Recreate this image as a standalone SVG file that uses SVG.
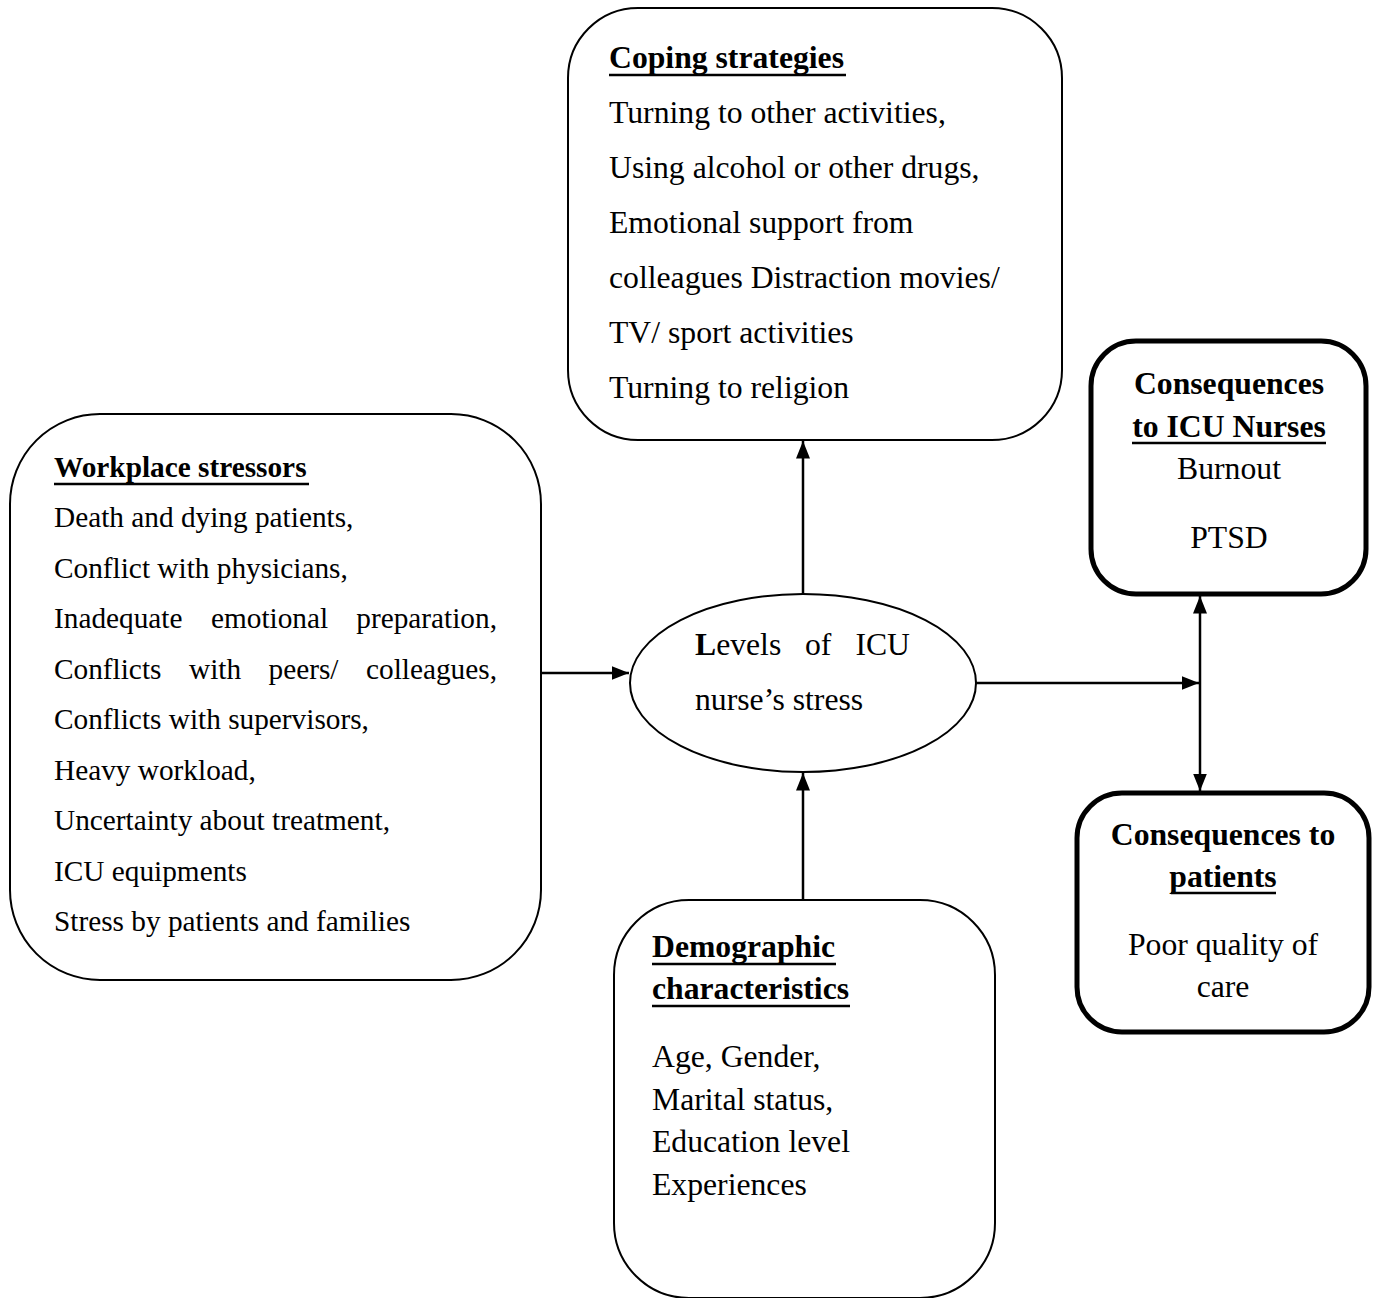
<svg xmlns="http://www.w3.org/2000/svg" width="1376" height="1298" viewBox="0 0 1376 1298">
<defs>
<marker id="arr" viewBox="0 0 10 8" refX="10" refY="4" markerWidth="7" markerHeight="5.6" markerUnits="strokeWidth" orient="auto-start-reverse">
<path d="M0,0 L10,4 L0,8 Z" fill="#000"/>
</marker>
<style>
.box{fill:#fff;stroke:#000;stroke-width:2}
.thick{fill:#fff;stroke:#000;stroke-width:5}
.t{font-family:"Liberation Serif","Times New Roman",serif;font-size:31.7px;fill:#000}
.w{font-family:"Liberation Serif","Times New Roman",serif;font-size:29.3px;fill:#000}
.b{font-weight:bold}
.ul{stroke:#000;stroke-width:2.5}
.con{stroke:#000;stroke-width:2.5;fill:none}
</style>
</defs>
<rect width="1376" height="1298" fill="#fff"/>

<g id="connectors">
<line class="con" x1="541" y1="673" x2="629" y2="673" marker-end="url(#arr)"/>
<line class="con" x1="803" y1="594" x2="803" y2="441" marker-end="url(#arr)"/>
<line class="con" x1="803" y1="900" x2="803" y2="773" marker-end="url(#arr)"/>
<line class="con" x1="976" y1="683" x2="1199" y2="683" marker-end="url(#arr)"/>
<line class="con" x1="1200" y1="596" x2="1200" y2="791" marker-start="url(#arr)" marker-end="url(#arr)"/>
</g>

<g id="coping">
<rect class="box" x="568" y="8" width="494" height="432" rx="70" ry="70"/>
<text class="t b" x="609" y="68">Coping strategies</text>
<line class="ul" x1="609" y1="75" x2="846" y2="75"/>
<text class="t" x="609" y="123">Turning to other activities,</text>
<text class="t" x="609" y="178">Using alcohol or other drugs,</text>
<text class="t" x="609" y="233">Emotional support from</text>
<text class="t" x="609" y="288">colleagues Distraction movies/</text>
<text class="t" x="609" y="343">TV/ sport activities</text>
<text class="t" x="609" y="398">Turning to religion</text>
</g>

<g id="workplace">
<rect class="box" x="10" y="414" width="531" height="566" rx="90" ry="90"/>
<text class="w b" x="54" y="477">Workplace stressors</text>
<line class="ul" x1="54" y1="484" x2="309" y2="484"/>
<text class="w" x="54" y="527">Death and dying patients,</text>
<text class="w" x="54" y="578">Conflict with physicians,</text>
<text class="w" y="628"><tspan x="54">Inadequate</tspan><tspan x="211">emotional</tspan><tspan x="497" text-anchor="end">preparation,</tspan></text>
<text class="w" y="679"><tspan x="54">Conflicts</tspan><tspan x="189">with</tspan><tspan x="268.5">peers/</tspan><tspan x="497" text-anchor="end">colleagues,</tspan></text>
<text class="w" x="54" y="729">Conflicts with supervisors,</text>
<text class="w" x="54" y="780">Heavy workload,</text>
<text class="w" x="54" y="830">Uncertainty about treatment,</text>
<text class="w" x="54" y="881">ICU equipments</text>
<text class="w" x="54" y="931">Stress by patients and families</text>
</g>

<g id="stress">
<ellipse class="box" cx="803" cy="683" rx="173" ry="89"/>
<text class="t" y="655"><tspan x="695"><tspan class="b">L</tspan>evels</tspan><tspan x="805">of</tspan><tspan x="910" text-anchor="end">ICU</tspan></text>
<text class="t" x="695" y="710">nurse’s stress</text>
</g>

<g id="nurses">
<rect class="thick" x="1091" y="341" width="275" height="253" rx="45" ry="45"/>
<text class="t b" x="1229" y="394" text-anchor="middle">Consequences</text>
<text class="t b" x="1229" y="437" text-anchor="middle">to ICU Nurses</text>
<line class="ul" x1="1132" y1="443" x2="1326" y2="443"/>
<text class="t" x="1229" y="479" text-anchor="middle">Burnout</text>
<text class="t" x="1229" y="548" text-anchor="middle">PTSD</text>
</g>

<g id="patients">
<rect class="thick" x="1077" y="793" width="292" height="239" rx="45" ry="45"/>
<text class="t b" x="1223" y="845" text-anchor="middle">Consequences to</text>
<text class="t b" x="1223" y="887" text-anchor="middle">patients</text>
<line class="ul" x1="1171" y1="893" x2="1276" y2="893"/>
<text class="t" x="1223" y="955" text-anchor="middle">Poor quality of</text>
<text class="t" x="1223" y="997" text-anchor="middle">care</text>
</g>

<g id="demographic">
<rect class="box" x="614" y="900" width="381" height="398" rx="75" ry="75"/>
<text class="t b" x="652" y="957">Demographic</text>
<line class="ul" x1="652" y1="964" x2="836" y2="964"/>
<text class="t b" x="652" y="999">characteristics</text>
<line class="ul" x1="652" y1="1006" x2="850" y2="1006"/>
<text class="t" x="652" y="1067">Age, Gender,</text>
<text class="t" x="652" y="1110">Marital status,</text>
<text class="t" x="652" y="1152">Education level</text>
<text class="t" x="652" y="1195">Experiences</text>
</g>
</svg>
